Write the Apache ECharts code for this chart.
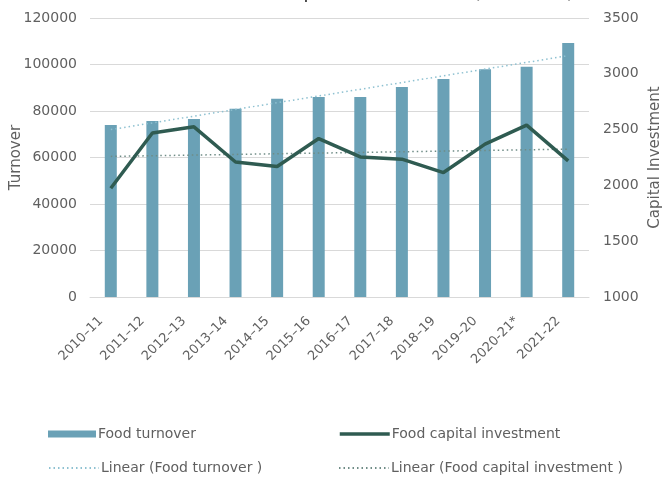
<!DOCTYPE html>
<html>
<head>
<meta charset="utf-8">
<script src="https://cdn.jsdelivr.net/npm/echarts@6/dist/echarts.min.js"></script>
<style>
  html, body { margin: 0; padding: 0; background: #ffffff; }
  #chart { width: 664px; height: 478px; }
</style>
</head>
<body>
<div id="chart"></div>
<script>
// Financial years on the category axis
const years = ['2010–11', '2011–12', '2012–13', '2013–14', '2014–15', '2015–16',
               '2016–17', '2017–18', '2018–19', '2019–20', '2020-21*', '2021-22'];

// Food turnover (left axis)
const foodTurnover = [74000, 75700, 76600, 81000, 85300, 86000,
                      86000, 90300, 93800, 98000, 99000, 109200];

// Food capital investment (right axis)
const foodCapital = [1975, 2470, 2525, 2210, 2170, 2420,
                     2255, 2235, 2115, 2370, 2540, 2220];

// Linear trend lines: value at the first and last year
const turnoverTrendEnds = [72000, 103800];
const capitalTrendEnds = [2260, 2325];

// Axis tick settings
const turnoverTicks = { min: 0, max: 120000, step: 20000 };
const capitalTicks = { min: 1000, max: 3500, step: 500 };

function trendSeriesData(ends) {
  const d = years.map(() => null);
  d[0] = ends[0];
  d[d.length - 1] = ends[1];
  return d;
}

const FONT = 'DejaVu Sans';
const GREY = '#606060';
const BAR = '#6aa1b6';
const LINE = '#2f5b51';
const TREND1 = '#8ec1d1';
const TREND2 = '#6f8c86';

const chart = echarts.init(document.getElementById('chart'), null, { renderer: 'canvas' });

const legendBase = {
  orient: 'horizontal',
  itemGap: 0,
  textStyle: { fontFamily: FONT, fontSize: 14, color: GREY, padding: [0, 0, 0, -3] },
  selectedMode: false
};
// line entries: hide the marker dot, keep the stroke
const lineLegend = { itemWidth: 50, itemHeight: 14, itemStyle: { opacity: 0 } };

chart.setOption({
  animation: false,
  backgroundColor: '#ffffff',
  graphic: [{
    type: 'text',
    left: 'center',
    top: -17,
    style: {
      text: 'Food turnover and capital investment (£ million)',
      font: '20px "DejaVu Sans"',
      fill: '#404040'
    }
  }],
  grid: { left: 90, right: 75, top: 18, bottom: 181, containLabel: false, outerBoundsMode: 'none' },
  legend: [
    Object.assign({}, legendBase, { data: ['Food turnover'], left: 43, top: 422, itemWidth: 48, itemHeight: 7, icon: 'rect' }),
    Object.assign({}, legendBase, lineLegend, { data: ['Food capital investment'], left: 333, top: 422, lineStyle: { width: 3.5 } }),
    Object.assign({}, legendBase, lineLegend, { data: ['Linear (Food turnover )'], left: 43, top: 456 }),
    Object.assign({}, legendBase, lineLegend, { data: ['Linear (Food capital investment )'], left: 333, top: 456 })
  ],
  xAxis: {
    type: 'category',
    data: years,
    axisLine: { lineStyle: { color: '#d9d9d9', width: 1 } },
    axisTick: { show: false },
    axisLabel: {
      rotate: 45,
      margin: 12,
      interval: 0,
      padding: [0, 14, 0, 0],
      fontFamily: FONT,
      fontSize: 13,
      color: GREY
    }
  },
  yAxis: [{
    type: 'value',
    min: turnoverTicks.min,
    max: turnoverTicks.max,
    interval: turnoverTicks.step,
    name: 'Turnover',
    nameLocation: 'middle',
    nameGap: 66,
    nameMoveOverlap: false,
    nameTextStyle: { fontFamily: FONT, fontSize: 15, color: GREY },
    axisLine: { show: false },
    axisTick: { show: false },
    axisLabel: { margin: 13, fontFamily: FONT, fontSize: 14, color: GREY, formatter: v => String(v) },
    splitLine: { lineStyle: { color: '#d9d9d9', width: 1 } }
  }, {
    type: 'value',
    min: capitalTicks.min,
    max: capitalTicks.max,
    interval: capitalTicks.step,
    name: 'Capital Investment',
    nameLocation: 'middle',
    nameGap: 59,
    nameMoveOverlap: false,
    nameTextStyle: { fontFamily: FONT, fontSize: 15, color: GREY },
    axisLine: { show: false },
    axisTick: { show: false },
    axisLabel: { margin: 14, fontFamily: FONT, fontSize: 14, color: GREY, formatter: v => String(v) },
    splitLine: { show: false }
  }],
  series: [{
    name: 'Food turnover',
    type: 'bar',
    yAxisIndex: 0,
    barWidth: 12,
    itemStyle: { color: BAR },
    data: foodTurnover
  }, {
    name: 'Food capital investment',
    type: 'line',
    yAxisIndex: 1,
    symbol: 'none',
    lineStyle: { color: LINE, width: 3.5 },
    itemStyle: { color: LINE },
    data: foodCapital,
    z: 4
  }, {
    name: 'Linear (Food turnover )',
    type: 'line',
    yAxisIndex: 0,
    symbol: 'none',
    connectNulls: true,
    lineStyle: { color: TREND1, width: 1.5, type: [1.5, 3] },
    itemStyle: { color: TREND1 },
    data: trendSeriesData(turnoverTrendEnds),
    z: 3
  }, {
    name: 'Linear (Food capital investment )',
    type: 'line',
    yAxisIndex: 1,
    symbol: 'none',
    connectNulls: true,
    lineStyle: { color: TREND2, width: 1.5, type: [1.5, 3] },
    itemStyle: { color: TREND2 },
    data: trendSeriesData(capitalTrendEnds),
    z: 3
  }]
});
</script>
</body>
</html>
